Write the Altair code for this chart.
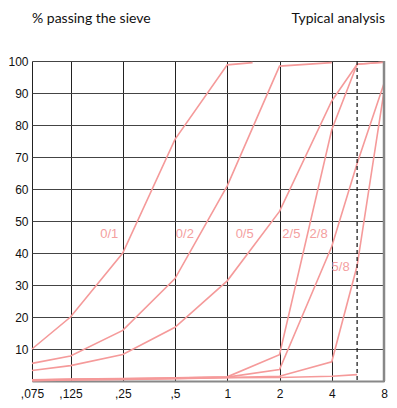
import altair as alt
import pandas as pd

# sieve sizes (mm)
sizes = [0.075, 0.125, 0.25, 0.5, 1, 2, 4, 5.6, 8]
tick_values = [0.075, 0.125, 0.25, 0.5, 1, 2, 4, 8]
tick_labels = [",075", ",125", ",25", ",5", "1", "2", "4", "8"]
y_ticks = [10, 20, 30, 40, 50, 60, 70, 80, 90, 100]

# % passing, per grading curve
x_01 = [0.075, 0.125, 0.25, 0.5, 1, 1.4]
y_01 = [10, 20, 40, 75.5, 98.8, 99.5]
x_02 = [0.075, 0.125, 0.25, 0.5, 1, 2, 4]
y_02 = [5.5, 7.8, 15.8, 32, 61, 98.4, 99.5]
y_05 = [3.3, 4.8, 8.3, 16.8, 31.3, 53, 87.5, 99, 99.6]
y_25 = [0.4, 0.6, 0.8, 1.0, 1.3, 8.2, 78.5, 99, 99.6]
y_28 = [0.3, 0.5, 0.7, 0.9, 1.2, 3.6, 42, 68, 93]
y_58 = [0.2, 0.4, 0.6, 0.8, 1.1, 1.5, 6, 36, 90.5]
x_8x = [0.075, 0.125, 0.25, 0.5, 1, 2, 4, 5.6]
y_8x = [0.1, 0.3, 0.5, 0.7, 1.0, 1.1, 1.5, 2]

label_text = ["0/1", "0/2", "0/5", "2/5", "2/8", "5/8"]
label_x = [0.209, 0.57, 1.26, 2.34, 3.36, 4.5]
label_y = [46, 46, 46, 46, 46, 35.6]

rows = []
for name, xs, ys in [("0/1", x_01, y_01), ("0/2", x_02, y_02), ("0/5", sizes, y_05),
                     ("2/5", sizes, y_25), ("2/8", sizes, y_28), ("5/8", sizes, y_58),
                     ("8x", x_8x, y_8x)]:
    for i, (a, b) in enumerate(zip(xs, ys)):
        rows.append({"series": name, "size": a, "pct": b, "order": i})
df = pd.DataFrame(rows)
labels_df = pd.DataFrame({"text": label_text, "size": label_x, "pct": label_y})

W, H = 352, 320
LINE = "#f59a9a"

label_expr = " : ".join(
    [f"datum.value == {v} ? '{t}'" for v, t in zip(tick_values, tick_labels)]
) + " : ''"

xscale = alt.Scale(type="log", base=2, domain=[0.075, 8], nice=False)
yscale = alt.Scale(domain=[0, 100], nice=False)

xaxis = alt.Axis(values=tick_values, labelExpr=label_expr, grid=True,
                 gridColor="#222", gridWidth=1, ticks=False,
                 domainColor="#888", domainWidth=2,
                 labelFont="Liberation Sans", labelFontSize=12,
                 labelColor="#111", labelPadding=7, labelFlush=False,
                 labelOverlap=False, title=None)
yaxis = alt.Axis(values=y_ticks, grid=True,
                 gridColor="#444", gridWidth=1.2, ticks=False, domain=False,
                 labelFont="Liberation Sans", labelFontSize=12,
                 labelColor="#111", labelPadding=4, labelOverlap=False,
                 labelFlush=False, title=None)

X = alt.X("size:Q", scale=xscale, axis=xaxis)
Y = alt.Y("pct:Q", scale=yscale, axis=yaxis)

lines = alt.Chart(df).mark_line(color=LINE, strokeWidth=1.6).encode(
    x=X, y=Y, detail="series:N", order="order:Q",
)

dashed = alt.Chart(pd.DataFrame({"size": [5.6]})).mark_rule(
    color="#111", strokeDash=[4, 3], strokeWidth=1.2
).encode(x=X)

right_edge = alt.Chart(pd.DataFrame({"size": [8]})).mark_rule(
    color="#888", strokeWidth=2.5
).encode(x=X)

curve_labels = alt.Chart(labels_df).mark_text(
    color="#f4a0a0", fontSize=13, font="Liberation Sans"
).encode(x=X, y=Y, text="text:N")

title_left = alt.Chart(pd.DataFrame({"t": ["% passing the sieve"]})).mark_text(
    align="left", baseline="middle", fontSize=14, font="Lato", color="#111"
).encode(x=alt.value(0), y=alt.value(-42), text="t:N")

title_right = alt.Chart(pd.DataFrame({"t": ["Typical analysis"]})).mark_text(
    align="right", baseline="middle", fontSize=14, font="Lato", color="#111"
).encode(x=alt.value(W + 1), y=alt.value(-42), text="t:N")

chart = alt.layer(lines, dashed, right_edge, curve_labels, title_left, title_right).properties(
    width=W, height=H,
    autosize=alt.AutoSizeParams(type="none"),
    padding={"left": 24, "top": 53, "right": 5, "bottom": 19},
).configure_view(stroke=None).configure(background="white")

chart.save("out.html", embed_options={"renderer": "svg", "actions": False})
